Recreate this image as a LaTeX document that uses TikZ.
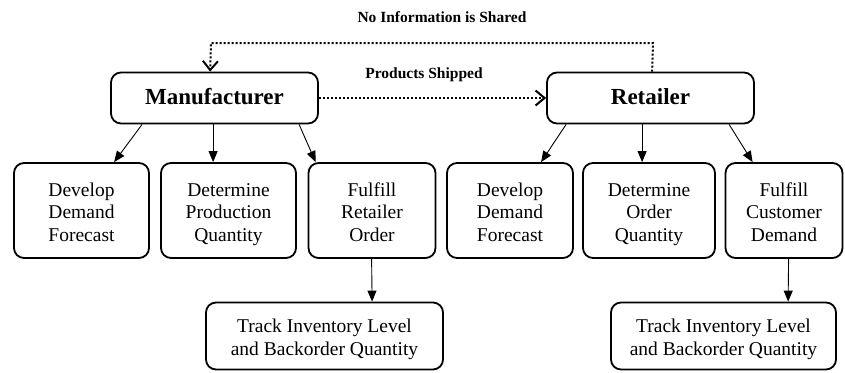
\documentclass[tikz,border=0pt]{standalone}
\usepackage{fontspec}
\setmainfont{Liberation Serif}
\usetikzlibrary{arrows.meta}
% struts on the first and last line keep every box's text at the same place
\newcommand\topstrut{\rule{0pt}{21pt}}
\newcommand\botstrut{\rule[-5pt]{0pt}{5pt}}
\newcommand\headstrut{\rule[-3pt]{0pt}{19pt}}
\begin{document}
\begin{tikzpicture}[x=1pt,y=-1pt,
  box/.style={draw, line width=1.8pt, rounded corners=10pt, align=center,
    inner sep=0pt, font=\fontsize{19.5}{22.5}\selectfont},
  headbox/.style={box, font=\fontsize{23}{26}\selectfont\bfseries},
  tag/.style={font=\fontsize{15.5}{18}\selectfont\bfseries, inner sep=0pt},
  link/.style={line width=0.9pt, -{Triangle[length=11pt,width=9pt]}},
  flow/.style={line width=2pt, dash pattern=on 2pt off 2pt,
    -{Straight Barb[length=9pt,width=15pt,line width=2pt]}}]
\useasboundingbox (0,0) rectangle (845,372);

% top level actors
\node[headbox, minimum width=207pt, minimum height=51pt] (man) at (214.5,98) {Manufacturer\headstrut};
\node[headbox, minimum width=207pt, minimum height=51pt] (ret) at (650.5,98) {Retailer\headstrut};

% manufacturer tasks
\node[box, minimum width=135pt, minimum height=95pt] (m1) at (81.5,210.5) {\topstrut Develop\\Demand\\Forecast\botstrut};
\node[box, minimum width=135pt, minimum height=95pt] (m2) at (228.5,210.5) {\topstrut Determine\\Production\\Quantity\botstrut};
\node[box, minimum width=127pt, minimum height=95pt] (m3) at (372,210.5) {\topstrut Fulfill\\Retailer\\Order\botstrut};

% retailer tasks
\node[box, minimum width=126pt, minimum height=95pt] (r1) at (510,210.5) {\topstrut Develop\\Demand\\Forecast\botstrut};
\node[box, minimum width=132pt, minimum height=95pt] (r2) at (649,210.5) {\topstrut Determine\\Order\\Quantity\botstrut};
\node[box, minimum width=117pt, minimum height=95pt] (r3) at (784,210.5) {\topstrut Fulfill\\Customer\\Demand\botstrut};

% inventory tracking
\node[box, minimum width=237pt, minimum height=67pt] (b1) at (324.5,336) {\topstrut Track Inventory Level\\and Backorder Quantity\botstrut};
\node[box, minimum width=225pt, minimum height=67pt] (b2) at (723.5,336) {\topstrut Track Inventory Level\\and Backorder Quantity\botstrut};

% labels on the dotted flows
\node[tag] (info) at (442,17) {No Information is Shared};
\node[tag] (ship) at (424,75) {Products Shipped};

% task arrows
\draw[link] ([xshift=32pt]man.south west) -- ([xshift=101pt]m1.north west);
\draw[link] ([xshift=103pt]man.south west) -- ([xshift=53pt]m2.north west);
\draw[link] ([xshift=189pt]man.south west) -- ([xshift=8pt]m3.north west);
\draw[link] ([xshift=20pt]ret.south west) -- ([xshift=95pt]r1.north west);
\draw[link] ([xshift=96pt]ret.south west) -- ([xshift=60pt]r2.north west);
\draw[link] ([xshift=183pt]ret.south west) -- ([xshift=28pt]r3.north west);
\draw[link] ([xshift=64pt]m3.south west) -- ([xshift=167pt]b1.north west);
\draw[link] ([xshift=64pt]r3.south west) -- ([xshift=178pt]b2.north west);

% dotted flows between the actors
\coordinate (upR) at (653,43);
\coordinate (upL) at (211,43);
\draw[flow] ([xshift=106pt]ret.north west) -- (upR) -- (upL) -- ([xshift=100pt]man.north west);
\draw[flow] (man.east) -- (ret.west);
\end{tikzpicture}
\end{document}
